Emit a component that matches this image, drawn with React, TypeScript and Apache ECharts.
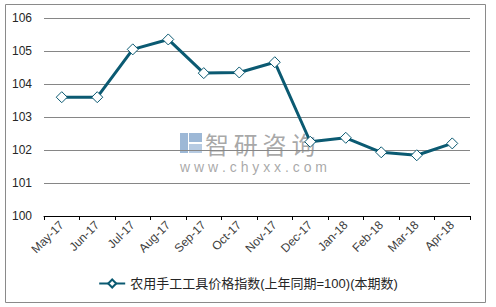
import React, { useEffect, useRef } from "react";
import * as echarts from "echarts";

const categories = ["May-17", "Jun-17", "Jul-17", "Aug-17", "Sep-17", "Oct-17", "Nov-17", "Dec-17", "Jan-18", "Feb-18", "Mar-18", "Apr-18"];
const values = [103.6, 103.6, 105.05, 105.35, 104.33, 104.35, 104.66, 102.25, 102.37, 101.93, 101.84, 102.2];
const seriesName = "农用手工工具价格指数(上年同期=100)(本期数)";
const yTicks = { min: 100, max: 106, interval: 1 };

export default function App() {
  const ref = useRef<HTMLDivElement>(null);
  useEffect(() => {
    document.body.style.margin = "0";
    const chart = echarts.init(ref.current!, null, { renderer: "svg" });
    const font = "'Liberation Sans', Arial, 'Noto Sans CJK SC', sans-serif";
    chart.setOption({
      animation: false,
      backgroundColor: "#ffffff",
      textStyle: { fontFamily: font },
      grid: { left: 44, right: 26, top: 18, bottom: 91, containLabel: false },
      graphic: [
        { type: "rect", shape: { x: 5.5, y: 4.5, width: 480, height: 298 }, style: { fill: "none", stroke: "#8a8a8a", lineWidth: 1 }, silent: true, z: -1 },
        { type: "rect", shape: { x: 180, y: 133, width: 8, height: 20 }, style: { fill: "#9db8d6" }, silent: true },
        { type: "rect", shape: { x: 189, y: 133, width: 13, height: 9 }, style: { fill: "#9db8d6" }, silent: true },
        { type: "rect", shape: { x: 189, y: 144, width: 13, height: 9 }, style: { fill: "#b7cbe2" }, silent: true },
        { type: "text", x: 205, y: 131, style: { text: "智\u2009研\u2009咨\u2009询", font: "24px 'Noto Sans CJK SC'", fill: "#8c8c8c", opacity: 0.75, lineHeight: 24 }, silent: true },
        { type: "text", x: 180, y: 160, style: { text: "w w w . c h y x x . c o m", font: "14px 'Liberation Sans'", fill: "#8c8c8c", opacity: 0.75, lineHeight: 14 }, silent: true },
      ],
      legend: {
        bottom: 12,
        left: "center",
        itemWidth: 26,
        itemHeight: 10,
        itemGap: 4,
        textStyle: { fontSize: 13, color: "#262626", fontFamily: font },
        data: [seriesName],
      },
      xAxis: {
        type: "category",
        data: categories,
        boundaryGap: true,
        axisLine: { lineStyle: { color: "#000", width: 1 } },
        axisTick: { show: true, interval: 0, length: 4, lineStyle: { color: "#000" } },
        axisLabel: { interval: 0, rotate: 45, fontSize: 12, color: "#404040", margin: 7, fontFamily: font },
      },
      yAxis: {
        type: "value",
        min: yTicks.min,
        max: yTicks.max,
        interval: yTicks.interval,
        axisLine: { show: false },
        axisTick: { show: false },
        splitLine: { lineStyle: { color: "#868686", width: 1 } },
        axisLabel: { fontSize: 12, color: "#262626", margin: 12, fontFamily: font },
      },
      series: [
        {
          name: seriesName,
          type: "line",
          data: values,
          symbol: "diamond",
          symbolSize: 11,
          lineStyle: { color: "#0b5a72", width: 3 },
          itemStyle: { color: "#ffffff", borderColor: "#0b5a72", borderWidth: 1 },
        },
      ],
    });
    return () => chart.dispose();
  }, []);
  return <div ref={ref} style={{ width: 496, height: 307 }} />;
}
